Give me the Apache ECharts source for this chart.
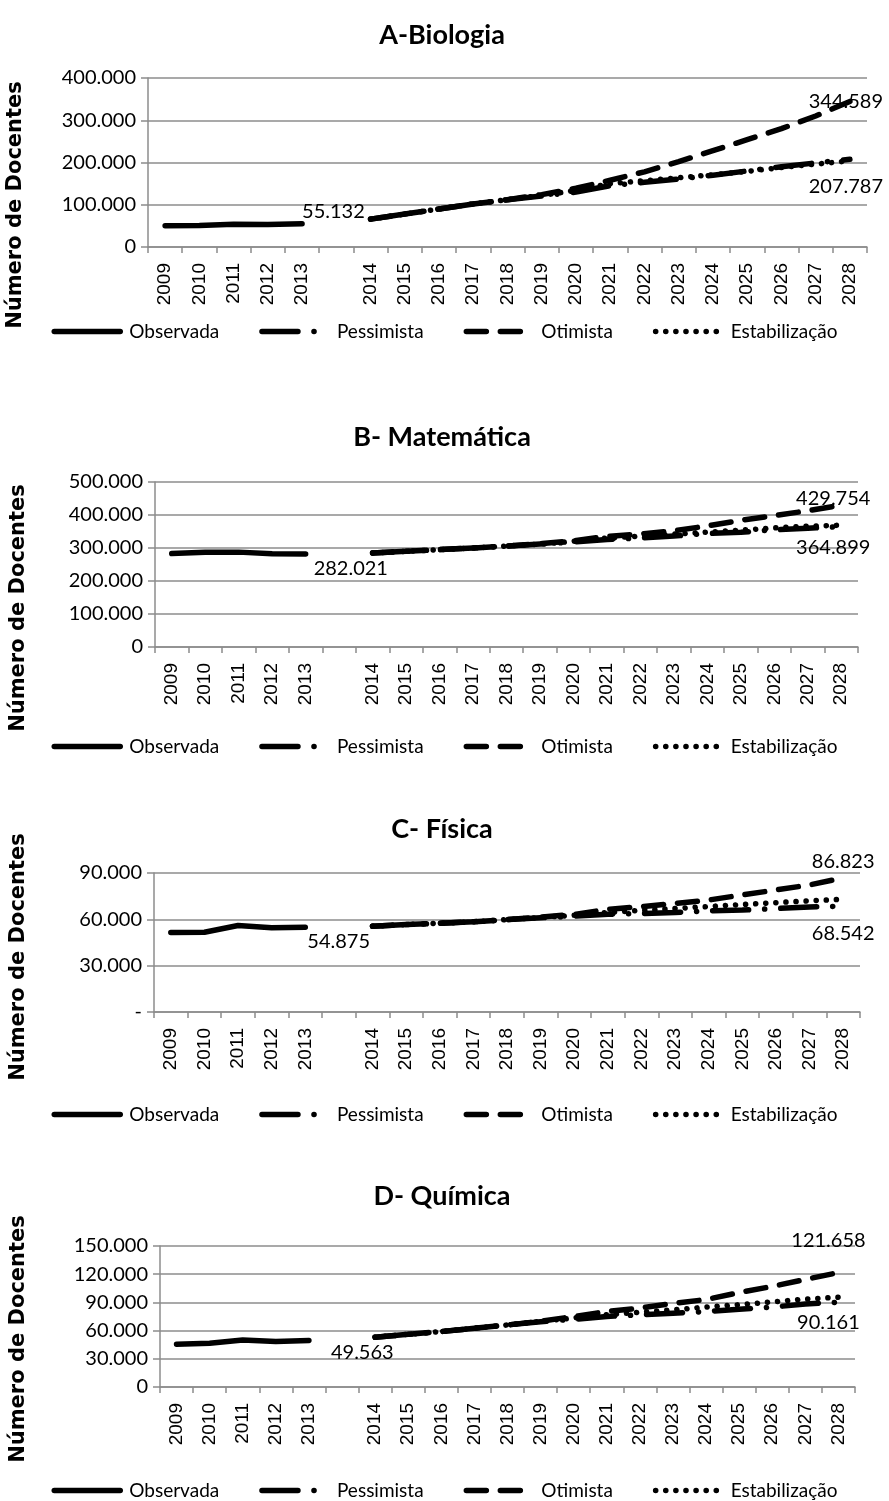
<!DOCTYPE html>
<html>
<head>
<meta charset="utf-8">
<script src="https://cdn.jsdelivr.net/npm/echarts@6/dist/echarts.min.js"></script>
<style>html,body{margin:0;padding:0;background:#fff}#c{width:889px;height:1501px}</style>
</head>
<body>
<div id="c"></div>
<script>
const years = ['2009','2010','2011','2012','2013','','2014','2015','2016','2017','2018','2019','2020','2021','2022','2023','2024','2025','2026','2027','2028'];
const seriesNames = ['Observada','Pessimista','Otimista','Estabilização'];
const titles = ['A-Biologia','B- Matemática','C- Física','D- Química'];

const bioObs = [50500, 50800, 53600, 53300, 55132];
const bioPes = [66000, 78000, 90000, 102000, 112000, 121000, 130000, 145000, 153000, 161000, 170000, 180000, 190000, 199000, 207787];
const bioOti = [66000, 78000, 90000, 102000, 112000, 124000, 139000, 158000, 178000, 202000, 228000, 254000, 280000, 310000, 344589];
const bioEst = [66000, 78000, 90000, 102000, 112000, 122000, 134000, 150000, 157000, 164000, 171000, 179000, 188000, 196000, 204000];

const matObs = [283000, 287000, 287500, 282500, 282021];
const matPes = [285000, 290000, 295000, 300000, 306000, 312000, 318000, 326000, 330000, 336000, 344000, 348000, 355000, 360000, 364899];
const matOti = [285000, 290000, 295000, 300000, 306000, 313000, 322000, 335000, 342000, 352000, 367000, 384000, 398000, 413000, 429754];
const matEst = [285000, 290000, 295000, 300000, 306000, 312000, 320000, 330000, 336000, 342000, 348000, 354000, 361000, 366000, 369000];

const fisObs = [51500, 51600, 56000, 54600, 54875];
const fisPes = [55600, 56600, 57500, 58400, 59800, 61000, 62000, 63300, 63800, 64400, 65500, 66000, 67000, 68000, 68542];
const fisOti = [55600, 56600, 57500, 58400, 59800, 61500, 63200, 66500, 68200, 70300, 72500, 75800, 79000, 82300, 86823];
const fisEst = [55600, 56600, 57500, 58400, 59800, 61200, 62600, 64500, 65800, 67000, 68300, 69600, 70800, 72000, 73000];

const quiObs = [45600, 46600, 50000, 48400, 49563];
const quiPes = [53000, 56000, 59000, 62500, 66000, 69500, 72000, 75000, 76800, 78500, 80300, 82800, 85000, 88400, 90161];
const quiOti = [53000, 56000, 59000, 62500, 66000, 70000, 75000, 80300, 84000, 89000, 93000, 100500, 107000, 114500, 121658];
const quiEst = [53000, 56000, 59000, 62500, 66000, 69800, 73500, 77000, 79500, 82000, 85000, 87500, 90500, 93500, 95500];

const yMax = [400000, 500000, 90000, 150000];
const yInterval = [100000, 100000, 30000, 30000];

const panels = [
  {obs: bioObs, pes: bioPes, oti: bioOti, est: bioEst},
  {obs: matObs, pes: matPes, oti: matOti, est: matEst},
  {obs: fisObs, pes: fisPes, oti: fisOti, est: fisEst},
  {obs: quiObs, pes: quiPes, oti: quiOti, est: quiEst}
];

// layout (pixels)
const grids = [
  {left: 148, top: 78, width: 719, height: 169},
  {left: 155, top: 482, width: 703, height: 165},
  {left: 154, top: 873, width: 706, height: 139},
  {left: 160, top: 1246, width: 695, height: 141}
];
const titleTop = [17, 419, 811, 1178];
const legendTop = [317, 732, 1100, 1476];
const yNamePos = [[16, 205], [19, 608], [19, 957], [19, 1339]];
const lblOff = [
  {obs: [0, -12], oti: [-4, 0], pes: [-4, 27]},
  {obs: [8, 15], oti: [-8, -7], pes: [-8, 21]},
  {obs: [2, 14], oti: [0, -16], pes: [0, 27]},
  {obs: [22, 12], oti: [-10, -32], pes: [-10, 20]}
];

function fmt(v) {
  return String(Math.round(v)).replace(/\B(?=(\d{3})+(?!\d))/g, '.');
}
const FONT = 'Lato';
const lineW = 5.5;
const styles = {
  'Observada': {type: 'solid'},
  'Pessimista': {type: [36, 16, 0.1, 16]},
  'Otimista': {type: [20, 14]},
  'Estabilização': {type: [0.1, 10]}
};

const option = {
  animation: false,
  backgroundColor: '#fff',
  title: [], legend: [], grid: [], xAxis: [], yAxis: [], series: [],
  graphic: []
};

panels.forEach((p, i) => {
  option.title.push({
    text: titles[i], left: 437, top: titleTop[i], textAlign: 'center',
    textStyle: {fontFamily: FONT, fontWeight: 'bold', fontSize: 27, color: '#000'}
  });
  option.legend.push({
    data: seriesNames, left: 'center', top: legendTop[i],
    itemWidth: 66, itemHeight: 12, itemGap: 40,
    itemStyle: {color: 'rgba(0,0,0,0)', borderWidth: 0, opacity: 0},
    lineStyle: {width: 5.5, cap: 'round'},
    textStyle: {fontFamily: FONT, fontSize: 19, color: '#000', padding: [0, 0, 0, 4]}
  });
  option.grid.push(Object.assign({containLabel: false}, grids[i]));
  option.xAxis.push({
    type: 'category', gridIndex: i, data: years, boundaryGap: true,
    axisLine: {lineStyle: {color: '#8c8c8c', width: 1.5}},
    axisTick: {show: true, length: 6, lineStyle: {color: '#8c8c8c', width: 1.5}, interval: 0},
    axisLabel: {interval: 0, rotate: 90, margin: 16, fontFamily: 'Liberation Sans', fontSize: 19, color: '#000'},
    splitLine: {show: false}
  });
  option.yAxis.push({
    type: 'value', gridIndex: i, min: 0, max: yMax[i], interval: yInterval[i],
    axisLine: {show: true, lineStyle: {color: '#8c8c8c', width: 1.5}},
    axisTick: {show: true, length: 7, lineStyle: {color: '#8c8c8c', width: 1.5}},
    axisLabel: {margin: 12, fontFamily: FONT, fontSize: 20, color: '#000',
      formatter: v => (v === 0 ? (i === 2 ? '-' : '0') : fmt(v))},
    splitLine: {show: true, lineStyle: {color: '#8c8c8c', width: 1.5}}
  });
  const obsData = years.map((y, k) => (k < 5 ? p.obs[k] : null));
  const proj = arr => years.map((y, k) => (k >= 6 ? arr[k - 6] : null));
  const lab = (dx, dy, align) => ({
    show: true, position: 'inside', align: align, verticalAlign: 'middle',
    offset: [dx, dy], fontFamily: FONT, fontSize: 20, color: '#000',
    formatter: pr => fmt(pr.value)
  });
  const mp = (coordName, val, dx, dy, align) => ({
    symbol: 'circle', symbolSize: 1, itemStyle: {color: 'rgba(0,0,0,0)'},
    data: [{coord: [coordName, val], value: val}],
    label: lab(dx, dy, align), silent: true
  });
  const o = lblOff[i];
  const defs = [
    {name: 'Observada', data: obsData, mp: mp(years[4], p.obs[4], o.obs[0], o.obs[1], 'left')},
    {name: 'Pessimista', data: proj(p.pes), mp: mp(years[20], p.pes[14], o.pes[0], o.pes[1], 'center')},
    {name: 'Otimista', data: proj(p.oti), mp: mp(years[20], p.oti[14], o.oti[0], o.oti[1], 'center')},
    {name: 'Estabilização', data: proj(p.est)}
  ];
  defs.forEach(d => {
    const s = {
      name: d.name, type: 'line', xAxisIndex: i, yAxisIndex: i,
      data: d.data, symbol: 'none', connectNulls: false,
      lineStyle: {color: '#000', width: lineW, type: styles[d.name].type, cap: 'round', join: 'round'},
      itemStyle: {color: '#000'}
    };
    if (d.mp) s.markPoint = d.mp;
    option.series.push(s);
  });
  option.graphic.push({
    type: 'text', x: yNamePos[i][0], y: yNamePos[i][1], rotation: Math.PI / 2,
    style: {text: 'Número de Docentes', font: 'bold 21px "DejaVu Sans"', fill: '#000',
      textAlign: 'center', textVerticalAlign: 'middle'}
  });
});

const chart = echarts.init(document.getElementById('c'), null, {renderer: 'canvas'});
chart.setOption(option);
</script>
</body>
</html>
